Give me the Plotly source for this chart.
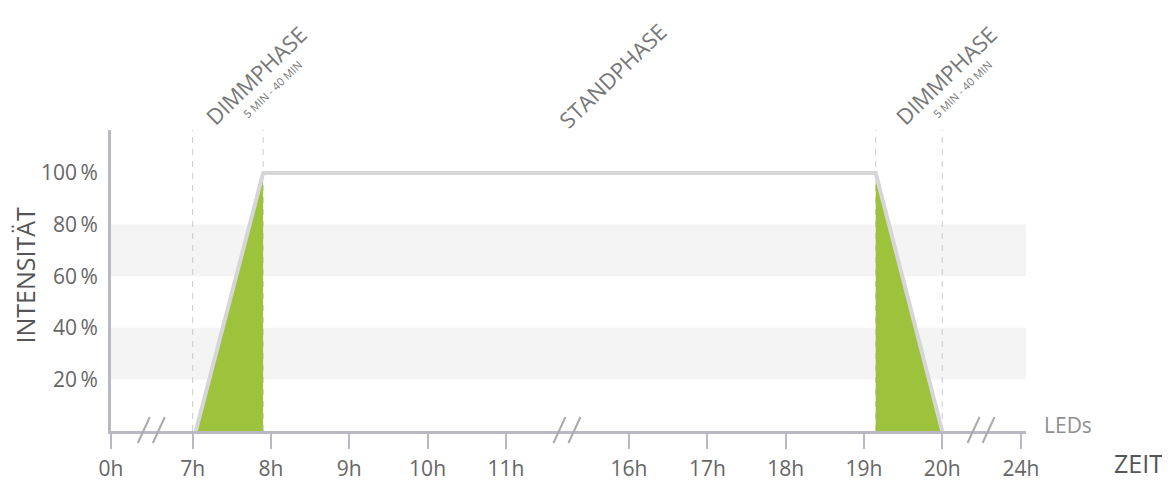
import numpy as np
import plotly.graph_objects as go

# ---------------- data ----------------
tick_hours = [0, 7, 8, 9, 10, 11, 16, 17, 18, 19, 20, 24]
tick_labels = ["0h", "7h", "8h", "9h", "10h", "11h", "16h", "17h", "18h", "19h", "20h", "24h"]

# intensity profile (hours, percent)
profile_hours = [7.04, 7.9, 19.15, 20.0]
profile_values = [0, 100, 100, 0]

# dimming phases (green areas)
dim_up_hours = [7.06, 7.9, 7.9]
dim_up_values = [0, 100, 0]
dim_down_hours = [19.15, 19.15, 19.98]
dim_down_values = [100, 0, 0]

# phase boundaries (dashed guides)
phase_bounds = [7.0, 7.9, 19.15, 20.0]

y_ticks = [20, 40, 60, 80, 100]
y_labels = ["20\u2009%", "40\u2009%", "60\u2009%", "80\u2009%", "100\u2009%"]
bands = [(20, 40), (60, 80)]

phase_titles = ["DIMMPHASE", "STANDPHASE", "DIMMPHASE"]
phase_subtitles = ["5 MIN - 40 MIN", "", "5 MIN - 40 MIN"]

# broken time axis: hours -> axis position
knot_hours = [0, 7, 11, 16, 20, 24]
knot_pos = [0, 1.043, 5.043, 6.616, 10.616, 11.62]
break_pos = [(knot_pos[0] + knot_pos[1]) / 2, (knot_pos[2] + knot_pos[3]) / 2,
             (knot_pos[4] + knot_pos[5]) / 2]


def pos(h):
    return np.interp(h, knot_hours, knot_pos)


GREEN = "#9dc23c"
LINE = "#d6d6d8"
AXIS = "#b9b9c3"
TXT = "#666666"
FONT = "Open Sans"

fig = go.Figure()

fig.add_trace(go.Scatter(x=pos(dim_up_hours), y=dim_up_values, fill="toself",
                         fillcolor=GREEN, mode="none", hoverinfo="skip"))
fig.add_trace(go.Scatter(x=pos(dim_down_hours), y=dim_down_values, fill="toself",
                         fillcolor=GREEN, mode="none", hoverinfo="skip"))
fig.add_trace(go.Scatter(x=pos(profile_hours), y=profile_values, mode="lines",
                         line=dict(color=LINE, width=4), hoverinfo="skip"))

shapes = []
for lo, hi in bands:
    shapes.append(dict(type="rect", xref="paper", x0=0, x1=1, yref="y", y0=lo, y1=hi,
                       fillcolor="#f4f4f5", line=dict(width=0), layer="below"))
for h in phase_bounds:
    shapes.append(dict(type="line", xref="x", x0=float(pos(h)), x1=float(pos(h)),
                       yref="paper", y0=0, y1=1,
                       line=dict(color="#c9c9d1", width=1, dash="6px,6px"), layer="below"))
for bp in break_pos:
    for dx0, dx1 in [(-14, -2), (1, 13)]:
        shapes.append(dict(type="line", xref="x", xsizemode="pixel", xanchor=float(bp),
                           x0=dx0, x1=dx1, yref="paper", ysizemode="pixel", yanchor=0,
                           y0=-12, y1=14, line=dict(color="#aaaaaa", width=2)))

annotations = []
# phase titles
anchors = [pos(7), break_pos[1], pos(19.15)]
title_shift = [63, 45, 70]
sub_shift = [79, 0, 86]
for i, t in enumerate(phase_titles):
    annotations.append(dict(text=t, x=float(anchors[i]), xref="x", xshift=title_shift[i],
                            y=1, yref="paper", yshift=55, showarrow=False, textangle=-44,
                            font=dict(family=FONT, size=22, color="#777777"),
                            xanchor="center", yanchor="middle"))
    if phase_subtitles[i]:
        annotations.append(dict(text=phase_subtitles[i], x=float(anchors[i]), xref="x",
                                xshift=sub_shift[i], y=1, yref="paper", yshift=41,
                                showarrow=False, textangle=-44,
                                font=dict(family=FONT, size=11, color="#777777"),
                                xanchor="center", yanchor="middle"))

annotations.append(dict(text="INTENSITÄT", x=-0.094, xref="paper", y=0.52, yref="paper",
                        showarrow=False, textangle=-90,
                        font=dict(family=FONT, size=25, color="#555555"),
                        xanchor="center", yanchor="middle"))
annotations.append(dict(text="ZEIT", x=1.094, xref="paper", y=-0.106, yref="paper",
                        showarrow=False, font=dict(family=FONT, size=25, color="#555555"),
                        xanchor="left", yanchor="middle"))
annotations.append(dict(text="LEDs", x=1.018, xref="paper", y=0, yref="y", yshift=6,
                        showarrow=False, font=dict(family=FONT, size=21, color="#8f8f8f"),
                        xanchor="left", yanchor="middle"))

# page body has an 8px margin: shrink figure and margins accordingly
fig.update_layout(
    width=1162, height=476,
    margin=dict(l=103, r=144, t=122, b=53),
    plot_bgcolor="white", paper_bgcolor="white",
    showlegend=False,
    shapes=shapes, annotations=annotations,
    xaxis=dict(range=[0, 915 / 78.3], tickvals=[float(p) for p in pos(tick_hours)],
               ticktext=tick_labels, showgrid=False, zeroline=False, automargin=False,
               showline=True, linecolor=AXIS, linewidth=3,
               ticks="outside", ticklen=15, tickwidth=2, tickcolor=AXIS,
               tickfont=dict(family=FONT, size=21, color=TXT), ticklabelstandoff=2),
    yaxis=dict(range=[0, 301 / 2.58], tickvals=y_ticks, ticktext=y_labels, automargin=False,
               showgrid=False, zeroline=False, showline=True, linecolor=AXIS, linewidth=3,
               ticks="", tickfont=dict(family=FONT, size=21, color=TXT),
               ticklabelstandoff=6),
)

fig.write_html("out.html")
